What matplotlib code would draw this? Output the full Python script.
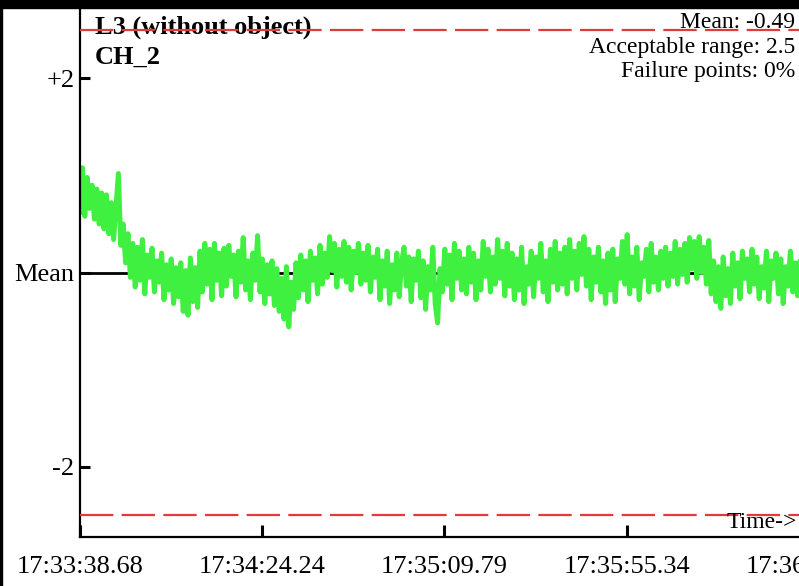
import matplotlib.pyplot as plt
import numpy as np
from matplotlib.patches import Rectangle

plt.rcParams['font.family'] = ['Liberation Serif', 'DejaVu Serif']
plt.rcParams['lines.scale_dashes'] = False

# Readings for channel CH_2, as offsets from the mean
mean_value = -0.49
acceptable_range = 2.5
sample_period = 0.6  # seconds between readings

tick_times = [0.0, 45.555, 91.11, 136.665, 182.22]
tick_labels = ["17:33:38.68", "17:34:24.24", "17:35:09.79", "17:35:55.34", "17:36:40.90"]

ch2_offset = [
    0.62, 1.08, 0.58, 0.98, 0.66, 0.90, 0.55, 0.86, 0.50, 0.82,
    0.45, 0.80, 0.40, 0.72, 0.34, 0.68, 1.02, 0.28, 0.50, 0.10,
    0.40, -0.05, 0.30, -0.15, 0.26, -0.08, 0.34, -0.22, 0.18, -0.05,
    0.25, -0.20, 0.12, -0.10, 0.20, -0.28, 0.08, -0.18, 0.14, -0.32,
    0.05, -0.25, 0.10, -0.40, 0.02, -0.44, 0.15, -0.30, 0.05, -0.36,
    0.22, -0.20, 0.30, -0.12, 0.24, -0.28, 0.30, -0.08, 0.20, -0.24,
    0.25, -0.14, 0.28, -0.04, 0.18, -0.25, 0.22, -0.10, 0.36, -0.18,
    0.12, -0.28, 0.20, -0.08, 0.38, -0.20, 0.14, -0.32, 0.08, -0.22,
    0.12, -0.34, 0.04, -0.40, -0.06, -0.48, 0.06, -0.56, -0.10, -0.38,
    0.10, -0.26, 0.18, -0.18, 0.12, -0.30, 0.22, -0.08, 0.15, -0.22,
    0.28, -0.12, 0.20, -0.05, 0.37, 0.02, 0.30, -0.15, 0.24, -0.04,
    0.32, -0.10, 0.26, -0.18, 0.22, 0.00, 0.30, -0.12, 0.20, -0.08,
    0.28, -0.20, 0.16, -0.05, 0.24, -0.28, 0.12, -0.14, 0.22, -0.32,
    0.08, -0.18, 0.20, -0.25, 0.10, 0.26, -0.14, 0.16, -0.30, 0.14,
    -0.08, 0.22, -0.26, 0.12, -0.38, 0.06, -0.18, 0.26, -0.32, -0.52,
    0.04, -0.20, 0.24, -0.12, 0.18, -0.28, 0.30, -0.06, 0.22, -0.18,
    0.14, -0.22, 0.26, -0.10, 0.20, -0.28, 0.12, -0.18, 0.32, -0.04,
    0.24, -0.20, 0.16, -0.12, 0.34, -0.06, 0.22, -0.24, 0.30, -0.14,
    0.20, -0.28, 0.14, -0.18, 0.26, -0.32, 0.06, -0.12, 0.22, -0.25,
    0.16, -0.06, 0.30, -0.20, 0.12, -0.30, 0.24, -0.10, 0.32, -0.18,
    0.20, -0.12, 0.26, -0.22, 0.34, -0.06, 0.22, -0.18, 0.30, -0.02,
    0.37, -0.14, 0.24, -0.28, 0.16, -0.10, 0.26, -0.20, 0.12, -0.32,
    0.20, -0.18, 0.24, -0.30, 0.14, -0.06, 0.32, -0.12, 0.39, -0.22,
    0.16, -0.14, 0.26, -0.28, 0.10, -0.04, 0.24, -0.20, 0.30, -0.10,
    0.16, -0.18, 0.22, -0.06, 0.26, -0.14, 0.20, -0.04, 0.32, -0.12,
    0.24, -0.02, 0.30, -0.10, 0.36, 0.04, 0.32, -0.06, 0.37, 0.00,
    0.26, -0.12, 0.33, -0.22, 0.12, -0.30, 0.06, -0.37, 0.16, -0.24,
    0.04, -0.32, 0.20, -0.14, 0.10, -0.27, 0.22, -0.06, 0.14, -0.20,
    0.24, -0.12, 0.16, -0.27, 0.06, -0.16, 0.22, -0.30, 0.12, -0.06,
    0.20, -0.22, 0.14, -0.32, 0.06, -0.14, 0.22, -0.20, 0.10, -0.24,
    0.12, -0.16, 0.14, -0.22,
]

t = np.arange(len(ch2_offset)) * sample_period
values = mean_value + np.array(ch2_offset)

fig = plt.figure(figsize=(7.99, 5.86), dpi=100)
W, H = 799, 586
ax = fig.add_axes([80 / W, 49 / H, 750 / W, 529 / H])

# limits (4 px per second, 97 px per unit)
ax.set_xlim(0, 187.5)
half = 529 / 2 / 97
ax.set_ylim(mean_value - half, mean_value + half)

# mean line and acceptable range
ax.axhline(mean_value, color="k", lw=2, zorder=1)
for sign in (1, -1):
    ax.axhline(mean_value + sign * acceptable_range, color="#e23a3a", lw=1.6,
               dashes=(24, 6), dash_capstyle="butt", zorder=4)

ax.plot(t, values, color="#40f040", lw=3.6, zorder=2)

# Axis ticks and labels
ax.set_xticks(tick_times)
ax.set_xticklabels(tick_labels)
ax.set_yticks([mean_value + 2, mean_value, mean_value - 2])
ax.set_yticklabels(["+2", "Mean", "-2"])
ax.tick_params(axis="x", direction="in", length=9, width=2.2, pad=14, labelsize=19)
ax.tick_params(axis="y", direction="in", length=7, width=2.2, pad=4, labelsize=19)

for side in ("top", "right"):
    ax.spines[side].set_visible(False)
for side in ("left", "bottom"):
    ax.spines[side].set_linewidth(1.6)

# Texts
ax.text(15 / 750, 1 - 19 / 529, "L3 (without object)", transform=ax.transAxes,
        fontsize=19, fontweight="bold", va="center", ha="left", zorder=3)
ax.text(15 / 750, 1 - 49 / 529, "CH_2", transform=ax.transAxes,
        fontsize=19, fontweight="bold", va="center", ha="left", zorder=3)
fig.text(795 / W, 1 - 22 / H, "Mean: %.2f" % mean_value, fontsize=17, ha="right", va="center")
fig.text(795 / W, 1 - 47 / H, "Acceptable range: %g" % acceptable_range, fontsize=17,
         ha="right", va="center")
fig.text(795 / W, 1 - 71 / H, "Failure points: 0%", fontsize=17, ha="right", va="center")
fig.text(797 / W, 1 - 522 / H, "Time->", fontsize=17, ha="right", va="center")

# frame borders of the window
fig.patches.append(Rectangle((0, 1 - 8 / H), 1, 8 / H, transform=fig.transFigure,
                             color="k", zorder=10))
fig.patches.append(Rectangle((0, 0), 2 / W, 1, transform=fig.transFigure,
                             color="k", zorder=10))

plt.savefig("out.png", dpi=100)
